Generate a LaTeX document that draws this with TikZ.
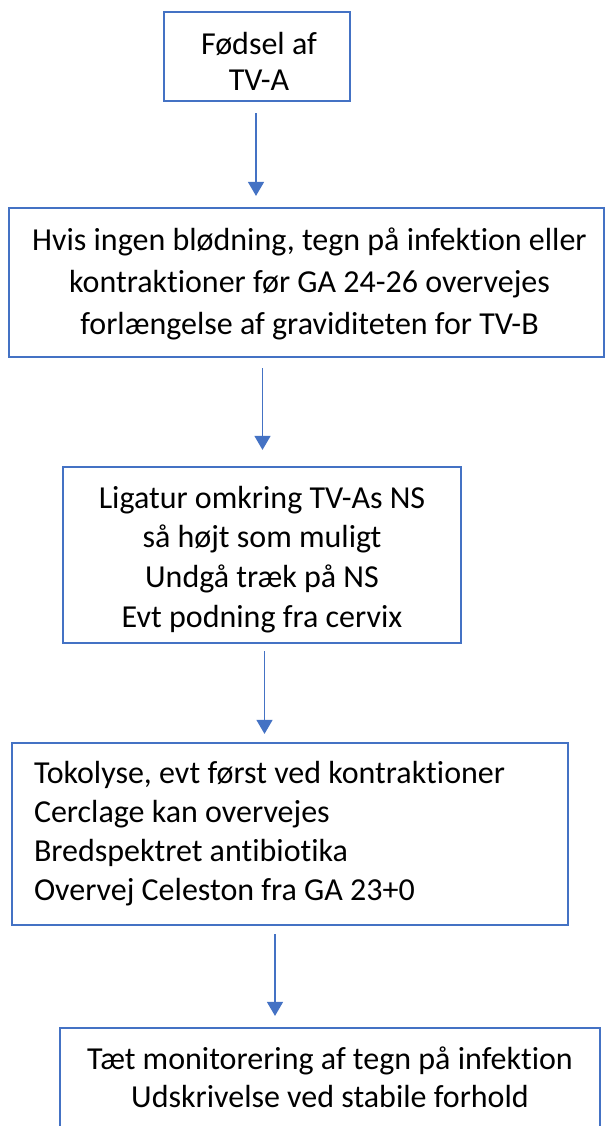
\documentclass[tikz,border=0pt]{standalone}
\usepackage{fontspec}
\setmainfont{Carlito}[Ligatures=CommonOff]
\usetikzlibrary{arrows.meta}
\definecolor{obl}{HTML}{4472C4}
% #1 = offset of first baseline below node centre, #2 = line distance, #3 = column type, #4 = lines
\newcommand\boxlines[4]{\raisebox{-#1}[0pt][0pt]{\fontsize{32}{#2}\selectfont
  \begin{tabular}[t]{@{}#3@{}}#4\end{tabular}}}
\tikzset{
  box/.style={draw=obl, line width=2.2pt, fill=white, inner sep=0pt},
  arr/.style={draw=obl, line width=1.3pt, -{Triangle[width=16pt,length=14pt]}}
}
\begin{document}
\begin{tikzpicture}[x=1pt,y=-1pt]
\useasboundingbox (0,0) rectangle (606,1126);
\clip (0,0) rectangle (606,1126);
\fill[white] (0,0) rectangle (606,1126);
\node[box, minimum width=186pt, minimum height=89pt] (b1) at (257,56.5)
  {\hspace{4pt}\boxlines{-1.5pt}{36pt}{c}{Fødsel af\\TV-A}};
\node[box, minimum width=595pt, minimum height=149pt] (b2) at (306.5,282.5)
  {\hspace{6pt}\boxlines{-32.5pt}{42pt}{c}{Hvis ingen blødning, tegn på infektion eller\\kontraktioner før GA 24-26 overvejes\\forlængelse af graviditeten for TV-B}};
\node[box, minimum width=398pt, minimum height=176pt] (b3) at (262,555)
  {\boxlines{-47pt}{39.7pt}{c}{Ligatur omkring TV-As NS\\så højt som muligt\\Undgå træk på NS\\Evt podning fra cervix}};
\node[box, minimum width=556pt, minimum height=182pt] (b4) at (290,834)
  {\makebox[512pt][l]{\boxlines{-51pt}{39pt}{l}{Tokolyse, evt først ved kontraktioner\\Cerclage kan overvejes\\Bredspektret antibiotika\\Overvej Celeston fra GA 23+0}}};
\node[box, minimum width=540pt, minimum height=112pt] (b5) at (330,1084)
  {\boxlines{-15pt}{38pt}{c}{Tæt monitorering af tegn på infektion\\Udskrivelse ved stabile forhold}};
\draw[arr] ([yshift=-11pt]b1.south -| 256,0) -- ([yshift=11pt]b2.north -| 256,0);
\draw[arr] ([yshift=-10pt]b2.south -| 262.5,0) -- ([yshift=16pt]b3.north -| 262.5,0);
\draw[arr] ([yshift=-7pt]b3.south -| 264.5,0) -- ([yshift=8pt]b4.north -| 264.5,0);
\draw[arr] ([yshift=-8pt]b4.south -| 275,0) -- ([yshift=11pt]b5.north -| 275,0);
\end{tikzpicture}
\end{document}
